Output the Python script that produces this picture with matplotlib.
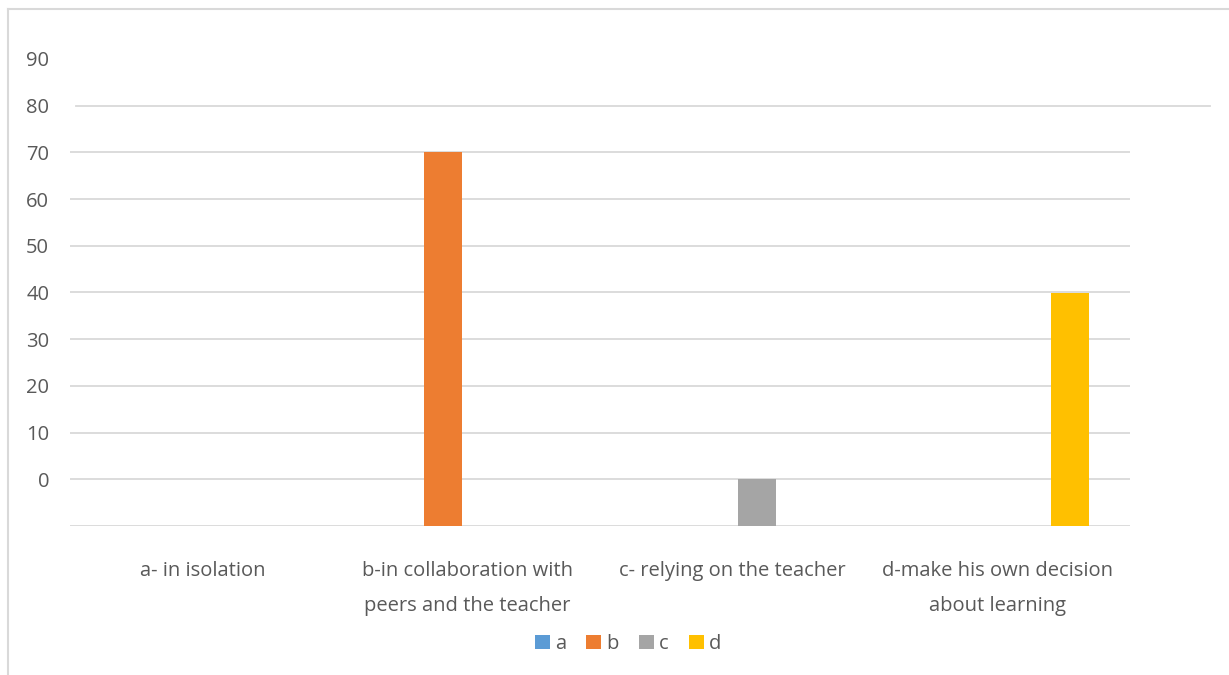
import matplotlib.pyplot as plt
from matplotlib.lines import Line2D
from matplotlib.patches import Patch
import numpy as np

plt.rcParams['font.family'] = ['Open Sans', 'DejaVu Sans']

# Datos (unidades del eje mostrado; la base esta en -10)
categories = [
    "a- in isolation",
    "b-in collaboration with\npeers and the teacher",
    "c- relying on the teacher",
    "d-make his own decision\nabout learning",
]
series_names = ["a", "b", "c", "d"]
series_colors = ["#5b9bd5", "#ed7d31", "#a5a5a5", "#ffc000"]
# cada serie solo tiene valor en su propia categoria
series_values = [
    [-10, None, None, None],
    [None, 70, None, None],
    [None, None, 0, None],
    [None, None, None, 40],
]
tick_values = [0, 10, 20, 30, 40, 50, 60, 70, 80, 90]
grid_values = [-10, 0, 10, 20, 30, 40, 50, 60, 70]
baseline = -10

TEXT = "#595959"
GRID = "#d9d9d9"
FS = 14.5

fig = plt.figure(figsize=(12.29, 6.75), dpi=100)
ax = fig.add_axes([70 / 1229, 1 - 526 / 675, 1060 / 1229, 467 / 675])

x = np.arange(len(categories))
bar_w = 0.1436
step = 0.1814
for i, (name, vals) in enumerate(zip(series_names, series_values)):
    xs = [xi + (i - 1.5) * step for xi, v in zip(x, vals) if v is not None]
    hs = [v - baseline for v in vals if v is not None]
    ax.bar(xs, hs, width=bar_w, bottom=baseline, color=series_colors[i], zorder=3)

ax.set_xlim(-0.5, 3.5)
ax.set_ylim(-10, 90)

for g in grid_values:
    ax.axhline(g, color=GRID, linewidth=1.3, zorder=1)
# linea de 80 mas larga, como en el original
ax.plot([6 / 1060, 1140 / 1060], [80, 80], transform=ax.get_yaxis_transform(),
        color=GRID, linewidth=1.3, clip_on=False, zorder=1)

ax.set_yticks(tick_values)
ax.set_yticklabels([str(t) for t in tick_values], color=TEXT, fontsize=FS)
ax.set_xticks(x)
ax.set_xticklabels(categories, color=TEXT, fontsize=FS, linespacing=2.0)
ax.tick_params(axis="both", length=0)
ax.tick_params(axis="y", pad=15)
ax.tick_params(axis="x", pad=25)
for s in ax.spines.values():
    s.set_visible(False)

handles = [Patch(facecolor=c, edgecolor="none") for c in series_colors]
fig.legend(handles, series_names, loc="center", bbox_to_anchor=(628 / 1229, 1 - 644 / 675),
           ncol=4, frameon=False, fontsize=FS, labelcolor=TEXT,
           handlelength=0.75, handleheight=0.75, handletextpad=0.25, columnspacing=1.0)

# marco del grafico (solo se ve arriba e izquierda)
fig.add_artist(Line2D([8 / 1229, 8 / 1229], [0, 1 - 9 / 675], color=GRID, linewidth=1.5))
fig.add_artist(Line2D([8 / 1229, 1], [1 - 9 / 675, 1 - 9 / 675], color=GRID, linewidth=1.5))

fig.savefig("out.png", dpi=100)
